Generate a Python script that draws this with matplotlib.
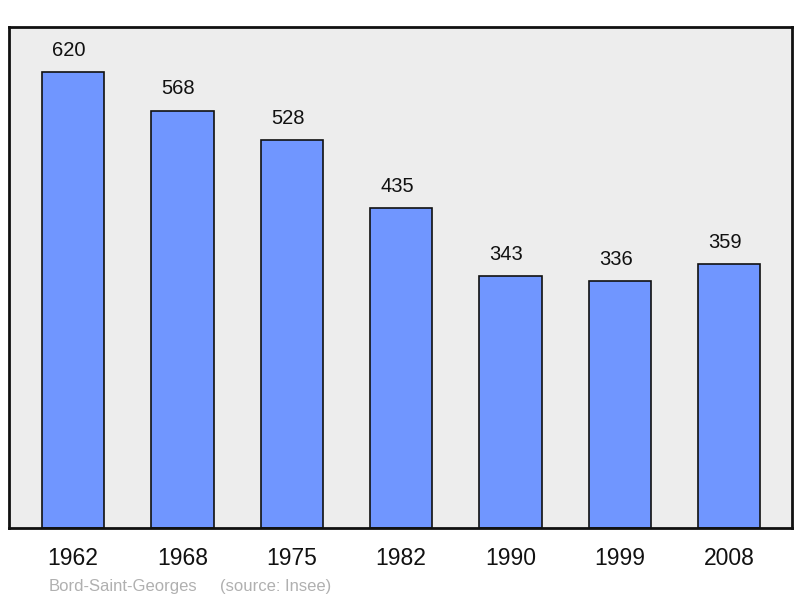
"""Population bar chart for Bord-Saint-Georges."""
import matplotlib
matplotlib.use('Agg')
import matplotlib.pyplot as plt

years = ['1962', '1968', '1975', '1982', '1990', '1999', '2008']
population = [620, 568, 528, 435, 343, 336, 359]
commune = 'Bord-Saint-Georges'
source = '(source: Insee)'

plt.rcParams['font.family'] = ['Liberation Sans', 'DejaVu Sans']

fig = plt.figure(figsize=(8, 5.98), dpi=100)
ax = fig.add_axes([0.01125, 0.117, 0.979, 0.838])
ax.set_facecolor('#ededed')

x = range(len(years))
bars = ax.bar(x, population, width=0.57, color='#7096ff',
              edgecolor='#111111', linewidth=1.2, zorder=2)
for rect, val in zip(bars, population):
    ax.annotate(str(val), (rect.get_x() + rect.get_width() / 2, rect.get_height()),
                xytext=(-3, 9), textcoords='offset points',
                ha='center', va='bottom', fontsize=14.5, color='#111111')

ax.set_xlim(-0.585, 6.575)
ax.set_ylim(0, 682)
ax.set_xticks(list(x))
ax.set_xticklabels(years, fontsize=16.5, color='#111111')
ax.tick_params(axis='x', length=0, pad=14)
ax.set_yticks([])
for spine in ax.spines.values():
    spine.set_linewidth(2)
    spine.set_color('#111111')

fig.text(49 / 800, 1 - 591 / 598, commune, fontsize=12, color='#b0b0b0',
         ha='left', va='baseline')
fig.text(220 / 800, 1 - 591 / 598, source, fontsize=12, color='#b0b0b0',
         ha='left', va='baseline')

fig.savefig('out.png', dpi=100)
